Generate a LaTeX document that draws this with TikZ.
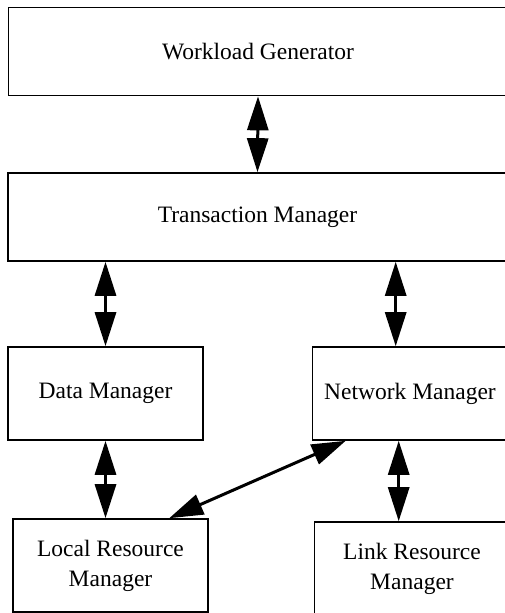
\documentclass[tikz,border=0pt]{standalone}
\usepackage{fontspec}
\setmainfont{Liberation Serif}
\usetikzlibrary{arrows.meta,positioning,calc}
\def\boxlw{1.6pt}
\def\tiplen{34pt}
\tikzset{
  modbox/.style = {draw, line width=\boxlw, inner sep=0pt, align=center,
                   font=\fontsize{23.5}{30}\selectfont},
  widebox/.style = {modbox, minimum width=499pt, minimum height=88pt},
  unitbox/.style = {modbox, minimum width=195pt, minimum height=93pt},
  link/.style = {{Triangle[length=\tiplen,width=21pt]}-{Triangle[length=\tiplen,width=21pt]},
                 line width=3pt}
}

\begin{document}
\begin{tikzpicture}[x=1pt,y=-1pt]
\clip (0,0) rectangle (505,613);

% --- top two layers ---
\node[widebox] (wg) at (258,51.5) {Workload Generator};
\node[widebox] (tm) at (257.5,217) {Transaction Manager};

% --- managers ---
\node[unitbox] (dm) at (105.5,393.5) {Data Manager};
\node[unitbox] (nm) at (410,393.5) {Network Manager};

% --- resource managers ---
\node[unitbox] (lrm) at (110.5,565.5) {Local Resource\\Manager};
\node[unitbox] (lkrm) at (412,568.5) {Link Resource\\Manager};

% --- connections ---
\draw[link] (wg.south) -- (tm.north);
\draw[link] (tm.south -| dm.north) -- (dm.north);
\draw[link] ($(nm.north west |- tm.south)+(84,0)$) -- ($(nm.north west)+(84,0)$);
\draw[link] (dm.south) -- (dm.south |- lrm.north);
\draw[link] ($(nm.south west)+(87,0)$) -- ($(nm.south west |- lkrm.north)+(87,0)$);
\draw[link] ($(lrm.north west)+(157,0)$) -- ($(nm.south west)+(34,0)$);

\end{tikzpicture}
\end{document}
